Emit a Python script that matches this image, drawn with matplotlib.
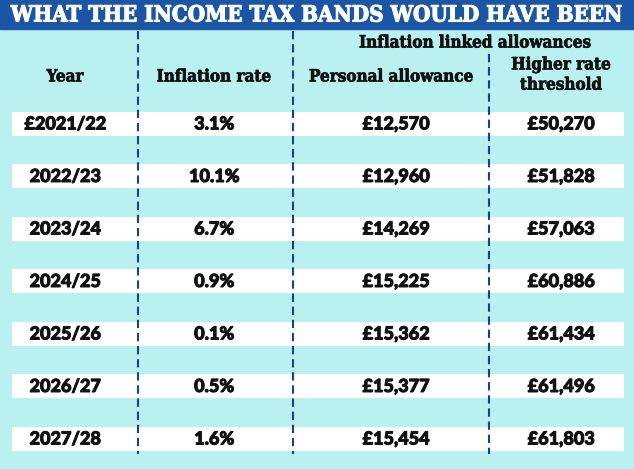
import matplotlib.pyplot as plt
import matplotlib.patches as patches
import matplotlib.patheffects as pe

# table contents
title = "WHAT THE INCOME TAX BANDS WOULD HAVE BEEN"
years = ["£2021/22", "2022/23", "2023/24", "2024/25", "2025/26", "2026/27", "2027/28"]
inflation = [3.1, 10.1, 6.7, 0.9, 0.1, 0.5, 1.6]
personal = [12570, 12960, 14269, 15225, 15362, 15377, 15454]
higher = [50270, 51828, 57063, 60886, 61434, 61496, 61803]

BANNER = '#1b55a5'
CYAN = '#b9f1f0'
DASH = '#13428f'
INK = '#111111'

HEAD = dict(family='DejaVu Serif', fontstretch='condensed', fontweight='bold',
            color=INK, ha='center', va='center', fontsize=12.2,
            path_effects=[pe.withStroke(linewidth=0.5, foreground=INK)])
CELL = dict(family='Lato', fontweight='black', color=INK, ha='center',
            va='center', fontsize=13,
            path_effects=[pe.withStroke(linewidth=0.7, foreground=INK)])

fig = plt.figure(figsize=(6.34, 4.69), dpi=100)
fig.patch.set_facecolor(CYAN)
ax = fig.add_axes([0, 0, 1, 1])
ax.set_xlim(0, 634)
ax.set_ylim(469, 0)
ax.axis('off')

# blue banner + title
ax.add_patch(patches.Rectangle((0, 0), 634, 29, color=BANNER, zorder=1))
ax.text(317, 15.5, title, color='white', fontsize=16, family='DejaVu Serif',
        fontstretch='condensed', fontweight='bold', ha='center', va='center',
        path_effects=[pe.withStroke(linewidth=0.8, foreground='white')])

# white row strips
row_y = [124 + i * 52.5 for i in range(len(years))]
ax.barh(row_y, 612, left=12, height=24, color='white', zorder=1)

# dashed column separators
dash = (0, (4.0, 2.3))
ax.plot([137.5, 137.5], [31, 454], color=DASH, lw=1.5, ls=dash, zorder=2)
ax.plot([292.5, 292.5], [31, 454], color=DASH, lw=1.5, ls=dash, zorder=2)
ax.plot([488.5, 488.5], [54, 454], color=DASH, lw=1.5, ls=dash, zorder=2)

# headers
cols = [65, 214, 396, 561]
ax.text(475, 43, "Inflation linked allowances", **HEAD)
ax.text(cols[0], 77, "Year", **HEAD)
ax.text(cols[1], 77, "Inflation rate", **HEAD)
ax.text(391, 77, "Personal allowance", **HEAD)
ax.text(cols[3], 75, "Higher rate\nthreshold", linespacing=1.25, **HEAD)

for y, yr, inf, pa, hr in zip(row_y, years, inflation, personal, higher):
    ax.text(cols[0], y, yr, **CELL)
    ax.text(cols[1], y, f"{inf:.1f}%", **CELL)
    ax.text(cols[2], y, f"£{pa:,}", **CELL)
    ax.text(cols[3], y, f"£{hr:,}", **CELL)

fig.savefig('out.png', dpi=100, facecolor=CYAN)
